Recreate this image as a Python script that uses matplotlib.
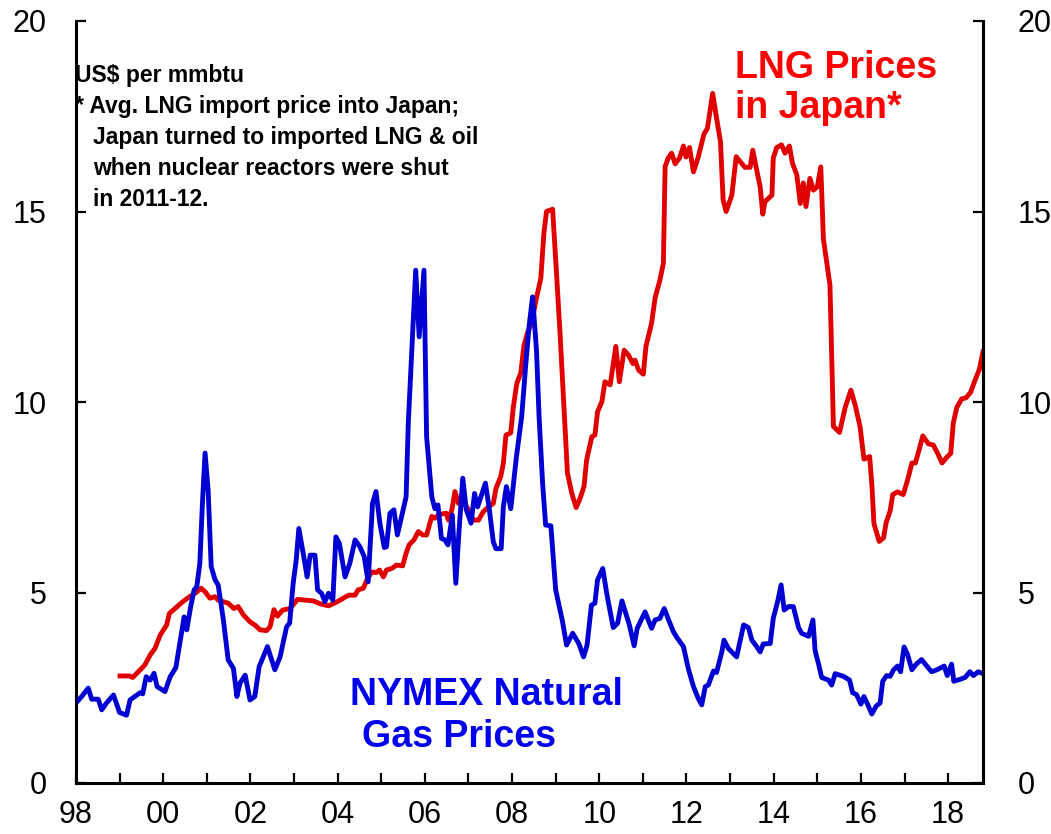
import matplotlib
matplotlib.use("Agg")
import matplotlib.pyplot as plt

plt.rcParams['font.family'] = ['Liberation Sans', 'DejaVu Sans']

# %% DATA (US$ per mmbtu; x = fractional year)
gas_years = [
    1998.00, 1998.13, 1998.28, 1998.36, 1998.51, 1998.59, 1998.70, 1998.86, 1999.00, 1999.16,
    1999.24, 1999.47, 1999.53, 1999.61, 1999.70, 1999.79, 1999.86, 2000.04, 2000.16, 2000.29,
    2000.42, 2000.48, 2000.54, 2000.63, 2000.71, 2000.77, 2000.84, 2000.90, 2000.96, 2001.03,
    2001.10, 2001.19, 2001.26, 2001.38, 2001.49, 2001.61, 2001.69, 2001.76, 2001.88, 2001.99,
    2002.10, 2002.20, 2002.39, 2002.56, 2002.68, 2002.83, 2002.90, 2002.98, 2003.05, 2003.11,
    2003.21, 2003.30, 2003.37, 2003.48, 2003.54, 2003.63, 2003.71, 2003.79, 2003.89, 2003.96,
    2004.04, 2004.17, 2004.28, 2004.40, 2004.51, 2004.61, 2004.70, 2004.80, 2004.88, 2004.97,
    2005.07, 2005.12, 2005.20, 2005.29, 2005.37, 2005.57, 2005.62, 2005.72, 2005.79, 2005.87,
    2005.98, 2006.04, 2006.16, 2006.23, 2006.30, 2006.38, 2006.46, 2006.53, 2006.63, 2006.71,
    2006.78, 2006.87, 2006.95, 2007.06, 2007.14, 2007.21, 2007.39, 2007.48, 2007.57, 2007.63,
    2007.75, 2007.80, 2007.87, 2007.97, 2008.10, 2008.22, 2008.31, 2008.39, 2008.47, 2008.56,
    2008.62, 2008.70, 2008.77, 2008.89, 2009.00, 2009.15, 2009.25, 2009.39, 2009.53, 2009.64,
    2009.72, 2009.82, 2009.90, 2009.96, 2010.08, 2010.17, 2010.32, 2010.42, 2010.52, 2010.61,
    2010.69, 2010.80, 2010.87, 2011.05, 2011.20, 2011.28, 2011.39, 2011.49, 2011.59, 2011.70,
    2011.78, 2011.93, 2012.04, 2012.16, 2012.27, 2012.35, 2012.43, 2012.50, 2012.62, 2012.69,
    2012.81, 2012.86, 2012.96, 2013.15, 2013.31, 2013.42, 2013.50, 2013.61, 2013.69, 2013.76,
    2013.92, 2013.99, 2014.09, 2014.17, 2014.24, 2014.34, 2014.45, 2014.57, 2014.64, 2014.80,
    2014.90, 2014.95, 2015.03, 2015.10, 2015.26, 2015.33, 2015.41, 2015.60, 2015.74, 2015.81,
    2015.90, 2016.00, 2016.07, 2016.16, 2016.25, 2016.35, 2016.44, 2016.50, 2016.59, 2016.67,
    2016.75, 2016.84, 2016.91, 2016.99, 2017.07, 2017.17, 2017.27, 2017.39, 2017.51, 2017.62,
    2017.74, 2017.91, 2017.98, 2018.08, 2018.13, 2018.27, 2018.39, 2018.50, 2018.58, 2018.69,
    2018.80,
]
gas_prices = [
    2.10, 2.27, 2.49, 2.20, 2.20, 1.92, 2.10, 2.31, 1.85, 1.78,
    2.18, 2.37, 2.34, 2.79, 2.70, 2.88, 2.53, 2.40, 2.79, 3.03,
    3.93, 4.36, 4.02, 4.63, 5.07, 5.15, 5.77, 7.35, 8.66, 7.69,
    5.68, 5.33, 5.20, 4.28, 3.23, 3.01, 2.27, 2.62, 2.83, 2.18,
    2.27, 3.05, 3.58, 2.97, 3.31, 4.10, 4.20, 5.24, 5.85, 6.68,
    6.03, 5.41, 5.98, 5.98, 5.07, 4.98, 4.76, 4.98, 4.80, 6.46,
    6.29, 5.41, 5.77, 6.38, 6.20, 5.94, 5.28, 7.34, 7.65, 6.81,
    6.18, 6.20, 7.08, 7.17, 6.51, 7.51, 9.44, 11.80, 13.46, 11.71,
    13.46, 9.09, 7.51, 7.20, 7.30, 6.42, 6.38, 6.25, 7.03, 5.24,
    6.55, 8.00, 7.17, 6.82, 7.60, 7.25, 7.87, 7.17, 6.33, 6.15,
    6.15, 7.25, 7.78, 7.20, 8.56, 9.61, 10.92, 11.98, 12.76, 11.36,
    9.61, 7.87, 6.77, 6.75, 5.07, 4.28, 3.62, 3.93, 3.66, 3.31,
    3.62, 4.67, 4.72, 5.33, 5.63, 4.98, 4.08, 4.19, 4.78, 4.45,
    4.15, 3.60, 4.06, 4.49, 4.06, 4.28, 4.32, 4.58, 4.28, 3.97,
    3.82, 3.58, 3.01, 2.53, 2.22, 2.05, 2.53, 2.57, 2.94, 2.90,
    3.44, 3.75, 3.53, 3.31, 4.15, 4.08, 3.75, 3.58, 3.44, 3.65,
    3.66, 4.32, 4.76, 5.20, 4.54, 4.63, 4.63, 4.08, 3.93, 3.85,
    4.28, 3.47, 3.12, 2.77, 2.70, 2.57, 2.87, 2.80, 2.70, 2.37,
    2.32, 2.07, 2.27, 2.05, 1.81, 2.02, 2.10, 2.67, 2.82, 2.80,
    2.97, 3.07, 2.92, 3.57, 3.37, 2.97, 3.12, 3.24, 3.07, 2.92,
    2.97, 3.07, 2.82, 3.12, 2.67, 2.72, 2.77, 2.92, 2.82, 2.92,
    2.87,
]

lng_years = [
    1999.01, 1999.22, 1999.30, 1999.43, 1999.58, 1999.70, 1999.81, 1999.93, 2000.08, 2000.14,
    2000.27, 2000.45, 2000.58, 2000.73, 2000.87, 2000.96, 2001.07, 2001.19, 2001.26, 2001.49,
    2001.62, 2001.72, 2001.84, 2001.99, 2002.10, 2002.22, 2002.37, 2002.45, 2002.54, 2002.62,
    2002.74, 2002.91, 2003.08, 2003.44, 2003.61, 2003.79, 2003.98, 2004.13, 2004.25, 2004.40,
    2004.47, 2004.59, 2004.67, 2004.78, 2004.88, 2004.96, 2005.05, 2005.12, 2005.24, 2005.35,
    2005.49, 2005.57, 2005.64, 2005.75, 2005.85, 2005.95, 2006.04, 2006.16, 2006.23, 2006.33,
    2006.49, 2006.54, 2006.62, 2006.69, 2006.77, 2006.88, 2007.00, 2007.11, 2007.23, 2007.34,
    2007.46, 2007.57, 2007.63, 2007.74, 2007.80, 2007.86, 2007.97, 2008.03, 2008.11, 2008.20,
    2008.27, 2008.35, 2008.45, 2008.55, 2008.66, 2008.73, 2008.79, 2008.93, 2009.01, 2009.10,
    2009.18, 2009.27, 2009.37, 2009.47, 2009.56, 2009.65, 2009.71, 2009.83, 2009.90, 2009.96,
    2010.06, 2010.13, 2010.25, 2010.38, 2010.46, 2010.57, 2010.67, 2010.77, 2010.82, 2010.90,
    2011.01, 2011.07, 2011.20, 2011.28, 2011.39, 2011.47, 2011.51, 2011.58, 2011.66, 2011.74,
    2011.84, 2011.93, 2011.99, 2012.07, 2012.16, 2012.27, 2012.40, 2012.48, 2012.60, 2012.69,
    2012.78, 2012.84, 2012.91, 2013.04, 2013.14, 2013.23, 2013.34, 2013.46, 2013.52, 2013.61,
    2013.69, 2013.75, 2013.80, 2013.96, 2013.99, 2014.07, 2014.18, 2014.26, 2014.36, 2014.43,
    2014.53, 2014.61, 2014.68, 2014.74, 2014.83, 2014.91, 2015.00, 2015.08, 2015.14, 2015.29,
    2015.37, 2015.51, 2015.64, 2015.77, 2015.87, 2015.98, 2016.07, 2016.20, 2016.25, 2016.30,
    2016.42, 2016.52, 2016.58, 2016.67, 2016.73, 2016.84, 2016.97, 2017.07, 2017.17, 2017.25,
    2017.34, 2017.42, 2017.55, 2017.66, 2017.76, 2017.86, 2017.97, 2018.06, 2018.12, 2018.20,
    2018.31, 2018.41, 2018.52, 2018.58, 2018.72, 2018.80,
]
lng_prices = [
    2.81, 2.81, 2.77, 2.92, 3.10, 3.36, 3.53, 3.88, 4.15, 4.45,
    4.58, 4.76, 4.87, 4.98, 5.11, 5.02, 4.85, 4.89, 4.80, 4.72,
    4.58, 4.63, 4.41, 4.23, 4.15, 4.02, 4.00, 4.10, 4.55, 4.38,
    4.54, 4.58, 4.82, 4.78, 4.70, 4.65, 4.75, 4.85, 4.93, 4.93,
    5.07, 5.11, 5.33, 5.54, 5.52, 5.59, 5.41, 5.59, 5.63, 5.72,
    5.70, 6.03, 6.25, 6.38, 6.60, 6.51, 6.51, 7.00, 6.95, 7.05,
    7.08, 6.90, 7.17, 7.65, 7.34, 7.38, 7.17, 6.90, 6.90, 7.12,
    7.25, 7.34, 7.73, 8.04, 8.39, 9.13, 9.19, 9.88, 10.49, 10.76,
    11.46, 11.81, 12.07, 12.68, 13.25, 14.43, 15.00, 15.06, 13.56, 11.81,
    10.06, 8.14, 7.60, 7.23, 7.47, 7.78, 8.48, 9.09, 9.13, 9.74,
    10.01, 10.53, 10.45, 11.46, 10.53, 11.36, 11.23, 11.01, 11.10, 10.84,
    10.73, 11.46, 12.07, 12.73, 13.20, 13.64, 16.18, 16.40, 16.53, 16.25,
    16.40, 16.72, 16.43, 16.68, 16.04, 16.43, 17.03, 17.18, 18.10, 17.45,
    16.83, 15.30, 15.00, 15.43, 16.44, 16.31, 16.16, 16.16, 16.61, 16.09,
    15.65, 14.93, 15.26, 15.43, 16.40, 16.68, 16.75, 16.53, 16.72, 16.27,
    15.96, 15.21, 15.75, 15.13, 15.87, 15.56, 15.65, 16.17, 14.28, 13.07,
    9.36, 9.20, 9.86, 10.31, 9.91, 9.36, 8.50, 8.57, 7.85, 6.80,
    6.34, 6.44, 6.84, 7.14, 7.57, 7.64, 7.57, 7.95, 8.40, 8.40,
    8.77, 9.11, 8.90, 8.87, 8.65, 8.40, 8.55, 8.65, 9.46, 9.86,
    10.08, 10.11, 10.26, 10.46, 10.87, 11.32,
]

year_ticks = list(range(1998, 2019))
year_labels = [f"{y % 100:02d}" if y % 2 == 0 else "" for y in year_ticks]
price_ticks = [0, 5, 10, 15, 20]

RED = '#e00000'
BLUE = '#0000d2'

# %% PLOT
fig = plt.figure(figsize=(10.51, 8.34), dpi=100)
ax = fig.add_axes([76 / 1051, 1 - 783 / 834, (983 - 76) / 1051, (783 - 21) / 834])

ax.plot(lng_years, lng_prices, color=RED, lw=3.5, solid_joinstyle='round', zorder=3)
ax.plot(gas_years, gas_prices, color=BLUE, lw=3.5, solid_joinstyle='round', zorder=4)

ax.set_xlim(1998, 2018.8)
ax.set_ylim(0, 20)
ax.set_xticks(year_ticks)
ax.set_xticklabels(year_labels)
ax.set_yticks(price_ticks)

ax.spines['top'].set_visible(False)
for side in ['left', 'right', 'bottom']:
    ax.spines[side].set_linewidth(2.2)

ax.tick_params(axis='x', direction='in', length=7, width=1.6, pad=12, labelsize=22)
ax.tick_params(axis='y', direction='in', length=7, width=1.6, pad=21, labelsize=22)

# right-hand scale
ax2 = ax.twinx()
ax2.set_ylim(0, 20)
ax2.set_yticks(price_ticks)
ax2.spines['top'].set_visible(False)
ax2.spines['right'].set_linewidth(2.2)
ax2.tick_params(axis='y', direction='in', length=7, width=1.6, pad=25, labelsize=22)

# annotations
note_kw = dict(fontsize=16.5, fontweight='bold', color='black', va='baseline', ha='left')
ax.text(1997.98, 18.40, "US$ per mmbtu", **note_kw)
ax.text(1997.98, 17.59, "* Avg. LNG import price into Japan;", **note_kw)
ax.text(1998.39, 16.77, "Japan turned to imported LNG & oil", **note_kw)
ax.text(1998.39, 15.96, "when nuclear reactors were shut", **note_kw)
ax.text(1998.39, 15.14, "in 2011-12.", **note_kw)

lab_kw = dict(fontsize=27, fontweight='bold', va='baseline', ha='left')
ax.text(2013.11, 18.50, "LNG Prices", color='#ff0000', **lab_kw)
ax.text(2013.11, 17.45, "in Japan*", color='#ff0000', **lab_kw)
ax.text(2004.28, 2.05, "NYMEX Natural", color='#0000ee', **lab_kw)
ax.text(2004.56, 0.94, "Gas Prices", color='#0000ee', **lab_kw)

fig.savefig("out.png", dpi=100)
